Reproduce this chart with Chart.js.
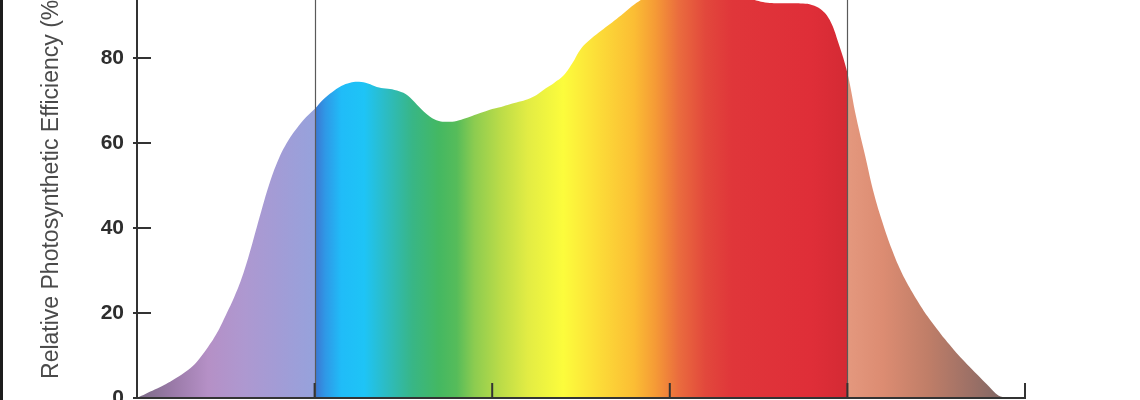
<!DOCTYPE html>
<html>
<head>
<meta charset="utf-8">
<title>Relative Photosynthetic Efficiency</title>
<script src="https://cdn.jsdelivr.net/npm/chart.js@4.4.1/dist/chart.umd.min.js"></script>
<style>
  html, body { margin: 0; padding: 0; background: #fff; overflow: hidden; }
  /* the plot is cropped: 100% sits just above the window */
  #wrap { position: absolute; left: 0; top: -27px; width: 1140px; height: 427px; }
  #edge { position: absolute; left: 0; top: 0; width: 3px; height: 400px; background: #1c1c1c; }
</style>
</head>
<body>
<div id="wrap"><canvas id="chart"></canvas></div>
<div id="edge"></div>
<script>
// wavelength (nm), every 5 nm, and relative photosynthetic efficiency (%)
const wavelengths = [300, 305, 310, 315, 320, 325, 330, 335, 340, 345, 350, 355, 360, 365, 370, 375, 380, 385, 390, 395,
                     400, 405, 410, 415, 420, 425, 430, 435, 440, 445, 450, 455, 460, 465, 470, 475, 480, 485, 490, 495,
                     500, 505, 510, 515, 520, 525, 530, 535, 540, 545, 550, 555, 560, 565, 570, 575, 580, 585, 590, 595,
                     600, 605, 610, 615, 620, 625, 630, 635, 640, 645, 650, 655, 660, 665, 670, 675, 680, 685, 690, 695,
                     700, 705, 710, 715, 720, 725, 730, 735, 740, 745, 750, 755, 760, 765, 770, 775, 780, 785, 790];
const efficiency  = [0, 1, 2, 3, 4.2, 5.5, 7, 9.2, 12, 15.3, 19.5, 24, 29.5, 36.5, 44, 51, 56.5, 60.5, 63.5, 66,
                     68, 70.3, 72, 73.4, 74.2, 74.4, 74, 73.2, 72.8, 72.5, 71.8, 70.2, 68, 66.2, 65.2, 65, 65.2, 65.8, 66.6, 67.3,
                     68, 68.5, 69.1, 69.7, 70.3, 71.3, 72.8, 74.2, 75.8, 78.7, 82.2, 84.3, 86, 87.6, 89.2, 90.9, 92.6, 94, 95.3, 96.3,
                     97.2, 97.8, 98.2, 98.4, 98.4, 98, 97.4, 96.5, 95.3, 94.2, 93.4, 93, 92.9, 92.9, 92.9, 92.8, 92.5, 91.5, 89, 83.5,
                     76.5, 66, 57, 48, 41, 35, 30, 26, 22.5, 19.3, 16.5, 13.8, 11.3, 9, 6.8, 4.7, 2.6, 0.6, 0];

const xTicks = [300, 400, 500, 600, 700, 800];
const parBounds = [400, 700];

// spectrum colours along the wavelength axis (repeated wavelength = hard edge)
const stopWavelengths = [300, 320, 340, 360, 380, 400, 400, 406, 415, 428, 440, 455, 470, 480, 490,
                         505, 520, 540, 560, 580, 592, 605, 620, 635, 680, 700, 700, 720, 745, 770, 790];
const stopColors = ['#7b6a86', '#9a7aa8', '#b590c6', '#ae98d0', '#a29cd6', '#96a2dc',
                    '#3d74d0', '#2f98e6', '#20bcf8', '#1ec4f6', '#2cbcc4', '#38b686', '#44b862', '#56bc5a', '#8ccc50',
                    '#bcdc48', '#e2ec44', '#fcfc3c', '#fcdc38', '#fbbd34', '#f59a36', '#ea6c3e', '#e2483c', '#e0363a',
                    '#df2e38', '#d42a34', '#e4987e', '#dc8c72', '#c07e68', '#9c7066', '#7c6664'];

const fontFamily = '"Liberation Sans", Arial, Helvetica, sans-serif';

function spectrumFill(context) {
    const chart = context.chart;
    const area = chart.chartArea;
    if (!area) return null;
    const xs = chart.scales.x;
    const g = chart.ctx.createLinearGradient(area.left, 0, area.right, 0);
    stopWavelengths.forEach((w, i) => {
        const off = (xs.getPixelForValue(w) - area.left) / (area.right - area.left);
        g.addColorStop(Math.min(1, Math.max(0, off)), stopColors[i]);
    });
    return g;
}

// axis lines, inward tick marks and the PAR boundaries
const axisMarks = {
    id: 'axisMarks',
    afterDraw(chart) {
        const { ctx, chartArea: a, scales: { x, y } } = chart;
        ctx.save();
        ctx.strokeStyle = '#5a5a5a';
        ctx.lineWidth = 1.2;
        parBounds.forEach(w => {
            const px = Math.round(x.getPixelForValue(w)) + 0.5;
            ctx.beginPath();
            ctx.moveTo(px, a.top);
            ctx.lineTo(px, a.bottom);
            ctx.stroke();
        });

        ctx.strokeStyle = '#333';
        ctx.lineWidth = 2;
        ctx.beginPath();
        ctx.moveTo(a.left, a.top);
        ctx.lineTo(a.left, a.bottom);
        ctx.lineTo(a.right + 1, a.bottom);
        ctx.stroke();

        xTicks.forEach(w => {
            const px = x.getPixelForValue(w);
            ctx.beginPath();
            ctx.moveTo(px, a.bottom);
            ctx.lineTo(px, a.bottom - 15);
            ctx.stroke();
        });
        y.ticks.forEach(t => {
            const py = y.getPixelForValue(t.value);
            ctx.beginPath();
            ctx.moveTo(a.left - 4, py);
            ctx.lineTo(a.left + 14, py);
            ctx.stroke();
        });
        ctx.restore();
    }
};

new Chart(document.getElementById('chart'), {
    type: 'line',
    data: {
        datasets: [{
            label: 'Relative Photosynthetic Efficiency',
            data: wavelengths.map((w, i) => ({ x: w, y: efficiency[i] })),
            fill: 'origin',
            backgroundColor: spectrumFill,
            borderWidth: 0,
            pointRadius: 0,
            tension: 0.4
        }]
    },
    options: {
        responsive: true,
        maintainAspectRatio: false,
        animation: false,
        layout: { padding: { left: 0, top: 0, right: 115, bottom: 2 } },
        plugins: { legend: { display: false }, tooltip: { enabled: false } },
        scales: {
            x: {
                type: 'linear',
                min: 300,
                max: 800,
                grid: { display: false },
                border: { display: false },
                ticks: { display: false, stepSize: 100 },
                afterFit: s => { s.height = 0; }
            },
            y: {
                min: 0,
                max: 100,
                grid: { display: false, drawTicks: false },
                border: { display: false },
                ticks: {
                    stepSize: 20,
                    padding: 13,
                    color: '#2e2e2e',
                    font: { family: fontFamily, size: 21, weight: 'bold' }
                },
                title: {
                    display: true,
                    text: 'Relative Photosynthetic Efficiency (%)',
                    color: '#4a4a4a',
                    padding: { top: 38, bottom: 0 },
                    font: { family: fontFamily, size: 23 }
                },
                afterFit: s => {
                    s.width = 137;
                    s.paddingTop = 0;
                    s.paddingBottom = 0;
                }
            }
        }
    },
    plugins: [axisMarks]
});
</script>
</body>
</html>
